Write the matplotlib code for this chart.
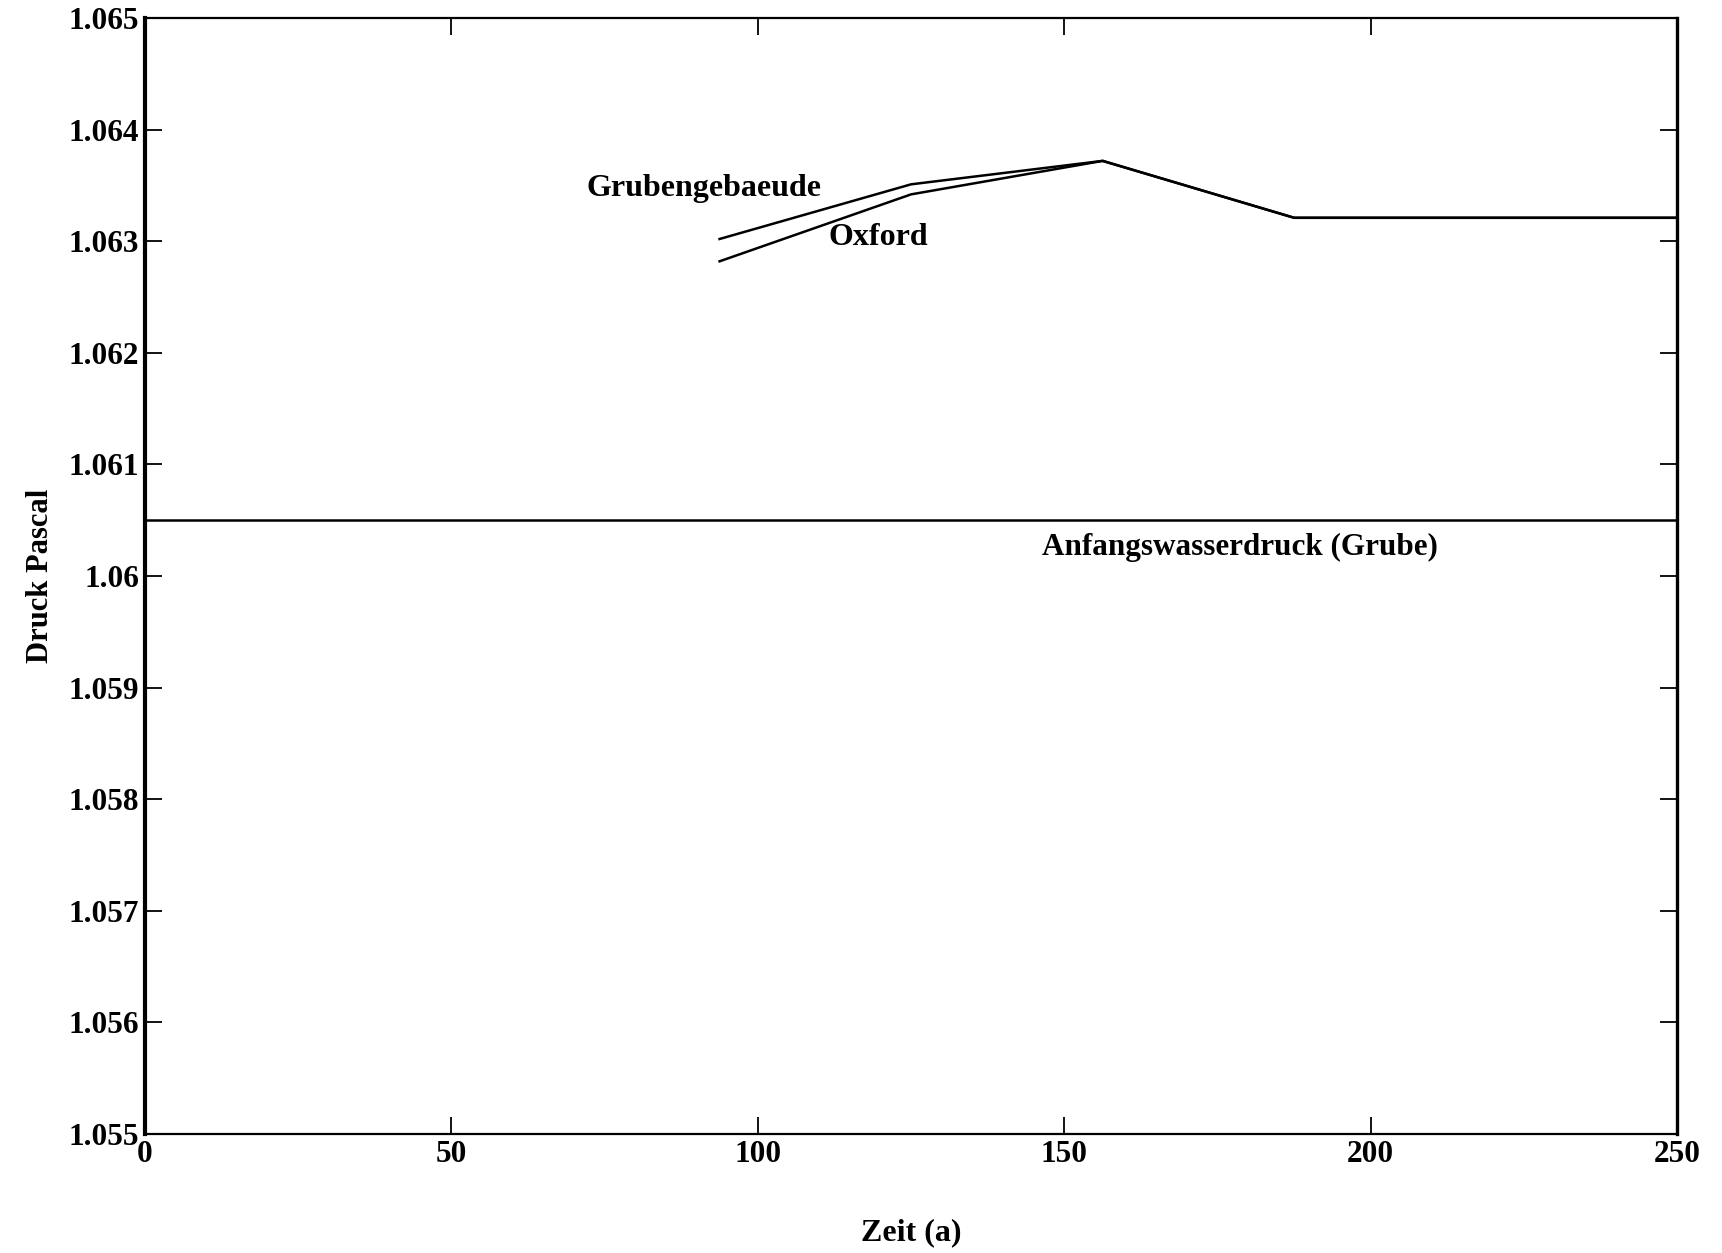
import matplotlib.pyplot as plt
import numpy as np
from matplotlib.ticker import FuncFormatter

# Daten
zeit = [93.75, 125.0, 156.25, 187.5, 250.0]
grubengebaeude = [1.06302, 1.06351, 1.06372, 1.06321, 1.06321]
oxford = [1.06282, 1.06342, 1.06372, 1.06321, 1.06321]
anfang_zeit = [0.0, 250.0]
anfangswasserdruck = [1.0605, 1.0605]

x_ticks = [0, 50, 100, 150, 200, 250]
y_ticks = [1.055, 1.056, 1.057, 1.058, 1.059, 1.06, 1.061, 1.062, 1.063, 1.064, 1.065]

plt.rcParams['font.family'] = ['Liberation Serif', 'DejaVu Serif']
plt.rcParams['font.weight'] = 'bold'
plt.rcParams['axes.labelweight'] = 'bold'

fig = plt.figure(figsize=(17.22, 12.53), dpi=100)
ax = fig.add_axes([0.0842, 0.095, 0.8898, 0.8906])

ax.plot(zeit, grubengebaeude, color='black', lw=1.8)
ax.plot(zeit, oxford, color='black', lw=1.8)
ax.plot(anfang_zeit, anfangswasserdruck, color='black', lw=1.8)

ax.text(72.0, 1.06347, 'Grubengebaeude', fontsize=23, va='center', ha='left')
ax.text(111.5, 1.06303, 'Oxford', fontsize=23, va='center', ha='left')
ax.text(146.3, 1.06026, 'Anfangswasserdruck (Grube)', fontsize=22.4, va='center', ha='left')

ax.set_xlim(0, 250)
ax.set_ylim(1.055, 1.065)
ax.set_xticks(x_ticks)
ax.set_yticks(y_ticks)
ax.xaxis.set_major_formatter(FuncFormatter(lambda v, p: '%g' % v))
ax.yaxis.set_major_formatter(FuncFormatter(lambda v, p: '%g' % round(v, 4)))
ax.tick_params(direction='in', length=12, width=1.3, labelsize=22.5,
               top=True, right=True, pad=4)

for s in ax.spines.values():
    s.set_linewidth(1.6)
ax.spines['left'].set_linewidth(3.0)
ax.spines['right'].set_linewidth(2.4)

ax.set_xlabel('Zeit (a)', fontsize=23, labelpad=36)
ax.set_ylabel('Druck Pascal', fontsize=22, labelpad=10)

fig.savefig('out.png', dpi=100)
